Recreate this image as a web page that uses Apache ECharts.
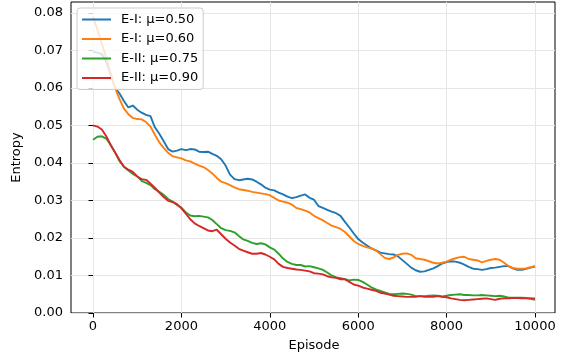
<!DOCTYPE html>
<html><head><meta charset="utf-8">
<script src="https://cdn.jsdelivr.net/npm/echarts@6/dist/echarts.min.js"></script>
<style>html,body{margin:0;padding:0;background:#fff}#c{width:567px;height:362px}</style>
</head><body><div id="c"></div>
<script>
const episodeStep = 100; // episodes 0,100,...,10000
const seriesNames = ['E-I: μ=0.50', 'E-I: μ=0.60', 'E-II: μ=0.75', 'E-II: μ=0.90'];
const seriesColors = ['#1f77b4', '#ff7f0e', '#2ca02c', '#d62728'];
const xTicks = [0, 2000, 4000, 6000, 8000, 10000];
const yTicks = [0, 0.01, 0.02, 0.03, 0.04, 0.05, 0.06, 0.07, 0.08];

const eI_050 = [0.0696,0.0694,0.0690,0.0670,0.0635,0.0600,0.0585,0.0565,0.0548,0.0553,
0.0542,0.0534,0.0528,0.0525,0.0495,0.0478,0.0458,0.0437,0.0430,0.0433,
0.0437,0.0434,0.0437,0.0436,0.0430,0.0429,0.0430,0.0424,0.0419,0.0410,
0.0393,0.0369,0.0357,0.0354,0.0356,0.0358,0.0356,0.0350,0.0343,0.0334,
0.0329,0.0327,0.0321,0.0316,0.0310,0.0306,0.0309,0.0313,0.0316,0.0307,
0.0302,0.0285,0.0280,0.0275,0.0270,0.0266,0.0259,0.0243,0.0228,0.0212,
0.0197,0.0188,0.0180,0.0172,0.0167,0.0161,0.0159,0.0157,0.0156,0.0151,
0.0141,0.0131,0.0121,0.0114,0.0110,0.0111,0.0115,0.0119,0.0125,0.0132,
0.0136,0.0138,0.0137,0.0134,0.0129,0.0123,0.0118,0.0117,0.0115,0.0117,
0.0120,0.0121,0.0123,0.0125,0.0125,0.0119,0.0115,0.0115,0.0118,0.0121,0.0124];

const eI_060 = [0.0790,0.0755,0.0718,0.0680,0.0640,0.0600,0.0570,0.0545,0.0530,0.0520,
0.0517,0.0516,0.0509,0.0497,0.0475,0.0455,0.0440,0.0427,0.0418,0.0415,
0.0412,0.0407,0.0404,0.0398,0.0393,0.0389,0.0381,0.0372,0.0360,0.0350,
0.0346,0.0341,0.0335,0.0330,0.0328,0.0326,0.0323,0.0321,0.0319,0.0317,
0.0314,0.0307,0.0300,0.0297,0.0294,0.0289,0.0280,0.0277,0.0273,0.0268,
0.0259,0.0253,0.0247,0.0240,0.0233,0.0229,0.0224,0.0216,0.0204,0.0192,
0.0184,0.0179,0.0175,0.0172,0.0167,0.0157,0.0147,0.0144,0.0148,0.0155,
0.0158,0.0159,0.0155,0.0146,0.0144,0.0142,0.0138,0.0134,0.0132,0.0134,
0.0137,0.0142,0.0146,0.0149,0.0150,0.0144,0.0142,0.0140,0.0135,0.0139,
0.0142,0.0144,0.0142,0.0134,0.0125,0.0120,0.0118,0.0118,0.0119,0.0122,0.0125];

const eII_075 = [0.0462,0.0470,0.0471,0.0465,0.0448,0.0428,0.0405,0.0390,0.0380,0.0371,
0.0364,0.0352,0.0347,0.0341,0.0330,0.0323,0.0315,0.0304,0.0297,0.0288,
0.0281,0.0268,0.0260,0.0258,0.0259,0.0257,0.0255,0.0248,0.0237,0.0226,
0.0221,0.0219,0.0215,0.0205,0.0196,0.0192,0.0187,0.0184,0.0186,0.0183,
0.0175,0.0169,0.0158,0.0145,0.0136,0.0131,0.0128,0.0128,0.0124,0.0125,
0.0122,0.0119,0.0115,0.0108,0.0100,0.0095,0.0093,0.0090,0.0087,0.0089,
0.0088,0.0083,0.0076,0.0068,0.0063,0.0059,0.0055,0.0051,0.0050,0.0051,
0.0052,0.0051,0.0049,0.0045,0.0045,0.0045,0.0046,0.0047,0.0046,0.0044,
0.0046,0.0048,0.0049,0.0050,0.0048,0.0048,0.0047,0.0047,0.0048,0.0047,
0.0046,0.0045,0.0046,0.0044,0.0041,0.0041,0.0041,0.0041,0.0040,0.0038,0.0035];

const eII_090 = [0.0500,0.0497,0.0489,0.0471,0.0448,0.0428,0.0408,0.0390,0.0382,0.0376,
0.0364,0.0357,0.0355,0.0345,0.0334,0.0321,0.0309,0.0299,0.0296,0.0290,
0.0279,0.0265,0.0250,0.0239,0.0232,0.0226,0.0220,0.0218,0.0222,0.0210,
0.0198,0.0188,0.0180,0.0171,0.0166,0.0162,0.0158,0.0158,0.0160,0.0156,
0.0150,0.0143,0.0131,0.0123,0.0120,0.0118,0.0116,0.0115,0.0113,0.0111,
0.0106,0.0105,0.0103,0.0098,0.0095,0.0094,0.0090,0.0090,0.0083,0.0076,
0.0073,0.0068,0.0065,0.0062,0.0059,0.0054,0.0052,0.0049,0.0046,0.0045,
0.0044,0.0043,0.0043,0.0043,0.0045,0.0043,0.0043,0.0043,0.0045,0.0043,
0.0042,0.0039,0.0037,0.0035,0.0034,0.0035,0.0036,0.0037,0.0038,0.0039,
0.0037,0.0035,0.0038,0.0039,0.0039,0.0040,0.0040,0.0039,0.0039,0.0039,0.0039];

const allValues = [eI_050, eI_060, eII_075, eII_090];
const Y_MAX = 0.0829;
const FONT = 'DejaVu Sans';

const chart = echarts.init(document.getElementById('c'), null, {renderer: 'canvas'});
chart.setOption({
  animation: false,
  backgroundColor: '#fff',
  textStyle: {fontFamily: FONT},
  grid: [
    {left: 71, right: 12, top: 2, bottom: 49, show: true, borderColor: '#000', borderWidth: 1, backgroundColor: 'transparent'},
    {left: 93, right: 32, top: 2, bottom: 49, show: false}
  ],
  xAxis: [
    {gridIndex: 0, type: 'value', min: -500, max: 10500, show: false},
    {gridIndex: 1, type: 'value', min: 0, max: 10000, interval: 2000,
     axisLine: {show: false},
     axisTick: {show: true, inside: false, length: 4.5, lineStyle: {color: '#000', width: 1}},
     axisLabel: {color: '#000', fontSize: 13, fontFamily: FONT, margin: 7, formatter: v => String(v)},
     splitLine: {show: true, lineStyle: {color: '#e6e6e6', width: 1}},
     name: 'Episode', nameLocation: 'middle', nameGap: 26,
     nameTextStyle: {color: '#000', fontSize: 13, fontFamily: FONT}}
  ],
  yAxis: [
    {gridIndex: 0, type: 'value', min: 0, max: Y_MAX, interval: 0.01,
     axisLine: {show: false},
     axisTick: {show: true, inside: false, length: 4.5, lineStyle: {color: '#000', width: 1}, customValues: yTicks},
     axisLabel: {color: '#000', fontSize: 13, fontFamily: FONT, margin: 8,
                 customValues: yTicks, formatter: v => v.toFixed(2)},
     splitLine: {show: true, lineStyle: {color: '#e6e6e6', width: 1}},
     name: 'Entropy', nameLocation: 'middle', nameGap: 46,
     nameTextStyle: {color: '#000', fontSize: 13, fontFamily: FONT}},
    {gridIndex: 1, type: 'value', min: 0, max: Y_MAX, show: false}
  ],
  legend: {
    orient: 'vertical', left: 77, top: 8,
    icon: 'rect',
    itemWidth: 29, itemHeight: 2, itemGap: 4.5,
    padding: [4, 5, 4, 5],
    backgroundColor: 'rgba(255,255,255,0.8)',
    borderColor: '#cccccc', borderWidth: 1, borderRadius: 3,
    formatter: name => '{t|' + name + '}',
    textStyle: {color: '#000', fontSize: 13, fontFamily: FONT, lineHeight: 15,
      rich: {t: {color: '#000', fontSize: 13, fontFamily: FONT, lineHeight: 15, padding: [0, 0, 0, 5]}}},
    data: seriesNames
  },
  series: allValues.map((vals, k) => ({
    name: seriesNames[k], type: 'line', xAxisIndex: 1, yAxisIndex: 1,
    data: vals.map((v, i) => [i * episodeStep, v]),
    symbol: 'none', showSymbol: false,
    lineStyle: {color: seriesColors[k], width: 1.9},
    itemStyle: {color: seriesColors[k]},
    z: 2 + k
  }))
});
</script></body></html>
